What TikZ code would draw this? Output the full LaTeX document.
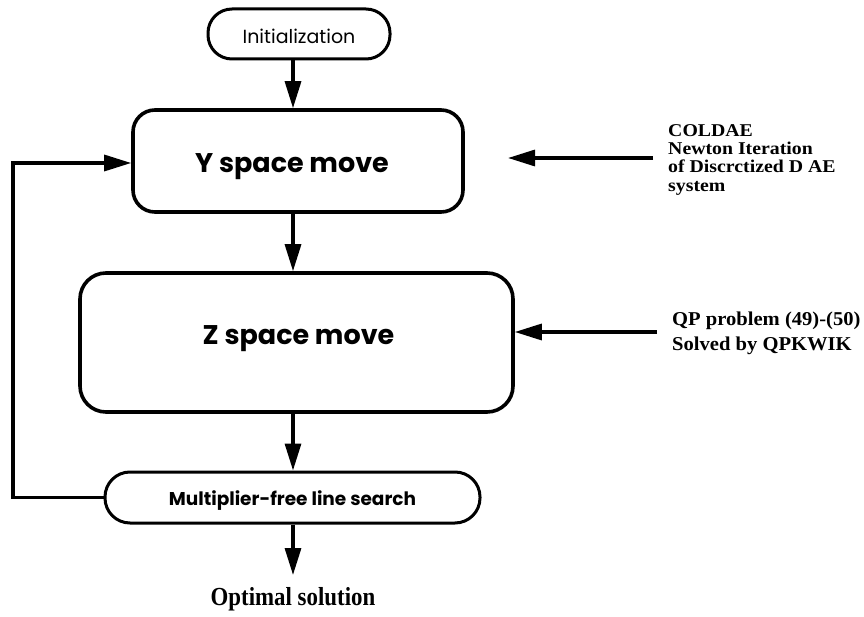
\documentclass[tikz,border=0pt]{standalone}
\usepackage{fontspec}
\setmainfont{Liberation Serif}
\newfontfamily\gothic{Poppins}
\usetikzlibrary{arrows.meta,calc}
\tikzset{
  arr/.style={-{Triangle[length=27pt,width=16pt]}, line width=3.2pt},
  box/.style={draw, line width=3.6pt, rounded corners=22pt, inner sep=0pt},
  pill/.style={draw, line width=3pt, rounded corners=24pt, inner sep=0pt},
  side/.style={font=\bfseries, align=left, anchor=north west, inner sep=0pt},
  bigtxt/.style={font={\gothic\bfseries\fontsize{27}{30}\selectfont}, inner sep=0pt},
}
\begin{document}
\begin{tikzpicture}[x=1pt,y=-1pt]
\useasboundingbox (0,0) rectangle (864,617);
\coordinate (col) at (293,0);
\node[pill, minimum width=182pt, minimum height=50pt,
  label={[font={\gothic\fontsize{19}{22}\selectfont}, inner sep=0pt, yshift=-2pt]center:Initialization}] (init) at (299,34) {};
\node[box, minimum width=330pt, minimum height=102pt,
  label={[bigtxt, yshift=-6pt, xshift=-6pt]center:Y space move}] (ybox) at (298,161) {};
\node[box, rounded corners=26pt, minimum width=433pt, minimum height=139pt,
  label={[bigtxt, yshift=3.5pt, xshift=2pt]center:Z space move}] (zbox) at (296.5,342.5) {};
\node[pill, rounded corners=25pt, minimum width=375pt, minimum height=51pt,
  label={[font={\gothic\bfseries\fontsize{18.5}{22}\selectfont}, inner sep=0pt, yshift=-3.5pt]center:Multiplier-free line search}] (mult) at (292.5,497.5) {};
\node[font={\bfseries\fontsize{26}{28}\selectfont\addfontfeature{FakeStretch=0.88}}, inner sep=0pt, anchor=base] (opt) at (293,605) {Optimal solution};
\draw[arr] (init.south -| col) -- (ybox.north -| col);
\draw[arr] (ybox.south -| col) -- (zbox.north -| col);
\draw[arr] (zbox.south -| col) -- (mult.north -| col);
\draw[arr] (mult.south -| col) -- (col |- 0,575);
\coordinate (loopx) at (13,0);
\draw[arr] (mult.west) -- (mult.west -| loopx) -- (loopx |- 0,163) -- (ybox.west |- 0,163);
\node[side, font={\bfseries\fontsize{18}{18.3}\selectfont\addfontfeature{FakeStretch=1.1}}] (cold) at (668,124) {COLDAE\\Newton Iteration\\of Discrctized D AE\\system};
\coordinate (ytip) at (508,158);
\draw[arr] ($(cold.west |- ytip)+(-15,0)$) -- (ytip);
\node[side, font={\bfseries\fontsize{19.6}{25}\selectfont\addfontfeature{FakeStretch=1.05}}] (qp) at (672,311.5) {QP problem (49)-(50)\\Solved by QPKWIK};
\draw[arr] ($(qp.west |- 0,332)+(-15,0)$) -- (zbox.east |- 0,332);
\end{tikzpicture}
\end{document}
